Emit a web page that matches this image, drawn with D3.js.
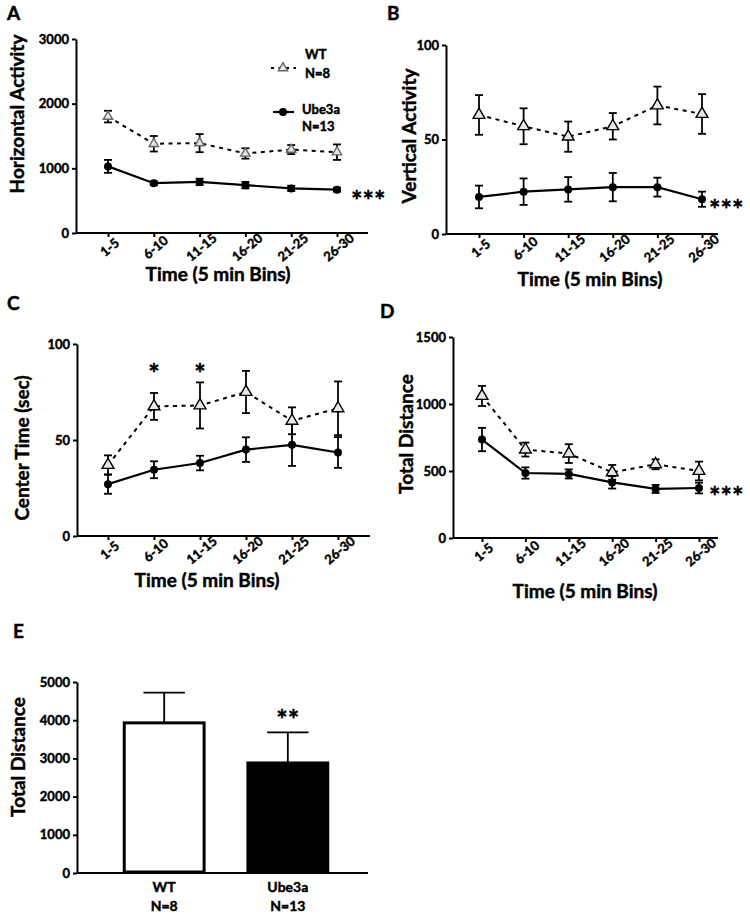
<!DOCTYPE html>
<html>
<head>
<meta charset="utf-8">
<script src="https://cdn.jsdelivr.net/npm/d3@7"></script>
<style>
  html, body { margin: 0; padding: 0; background: #fff; }
  svg { display: block; }
  text { font-family: Lato, "Open Sans", sans-serif; font-weight: bold; fill: #000;
         stroke: #000; stroke-width: 0.45px; paint-order: stroke; }
</style>
</head>
<body>
<svg id="chart" width="750" height="917"></svg>
<script>
// ---------------- DATA ----------------
const categories = ["1-5", "6-10", "11-15", "16-20", "21-25", "26-30"];

const horizWT = [1800, 1380, 1390, 1230, 1290, 1250];
const horizWTErr = [90, 120, 140, 80, 70, 120];
const horizUbe = [1030, 770, 790, 740, 690, 670];
const horizUbeErr = [100, 30, 50, 50, 40, 30];
const horizTicks = [0, 1000, 2000, 3000];

const vertWT = [63, 57, 51.5, 57, 68, 63.5];
const vertWTErr = [10.5, 9.5, 8, 7, 10, 10.5];
const vertUbe = [19.6, 22.4, 23.6, 24.8, 24.8, 18.4];
const vertUbeErr = [6, 7, 6.5, 7.5, 5, 4];
const vertTicks = [0, 50, 100];

const centerWT = [37, 67.5, 68, 75, 60, 66.5];
const centerWTErr = [5, 7, 12, 11, 7, 14];
const centerUbe = [27, 34.5, 38, 45, 47.5, 43.5];
const centerUbeErr = [5, 4.4, 3.8, 6.4, 11, 8];
const centerTicks = [0, 50, 100];

const distWT = [1060, 660, 630, 490, 550, 500];
const distWTErr = [75, 52, 70, 55, 37, 70];
const distUbe = [735, 485, 478, 415, 366, 373];
const distUbeErr = [87, 42, 34, 46, 30, 40];
const distTicks = [0, 500, 1000, 1500];

const totalGroups = ["WT", "Ube3a"];
const totalN = ["N=8", "N=13"];
const totalMean = [3930, 2880];
const totalErr = [790, 800];
const totalTicks = [0, 1000, 2000, 3000, 4000, 5000];

const legendLabels = [["WT", "N=8"], ["Ube3a", "N=13"]];

// ---------------- DRAW ----------------
const svg = d3.select("#chart");
const AX_W = 2;
const STAR_FONT = "'DejaVu Sans', sans-serif";
const STAR_SIZE = 27;

function styleAxis(g) {
  g.selectAll("path.domain").attr("stroke", "#000").attr("stroke-width", AX_W);
  g.selectAll(".tick line").attr("stroke", "#000").attr("stroke-width", AX_W);
  g.selectAll(".tick text").attr("font-size", 13).attr("fill", "#000")
    .attr("font-family", "Lato, 'Open Sans', sans-serif").attr("font-weight", "bold");
}

function yAxis(g, y, x0, ticks) {
  const a = g.append("g").attr("transform", `translate(${x0},0)`)
    .call(d3.axisLeft(y).tickValues(ticks).tickSize(4).tickSizeOuter(0).tickPadding(3).tickFormat(d3.format("d")));
  styleAxis(a);
  return a;
}

function panelLetter(txt, x, y) {
  svg.append("text").attr("x", x).attr("y", y).attr("font-size", 19).text(txt);
}

function yTitle(txt, bx, cy) {
  svg.append("text").attr("transform", `translate(${bx},${cy}) rotate(-90)`)
    .attr("text-anchor", "middle").attr("font-size", 19).text(txt);
}

function xTitle(txt, cx, by) {
  svg.append("text").attr("x", cx).attr("y", by)
    .attr("text-anchor", "middle").attr("font-size", 19).text(txt);
}

function stars(g, txt, x, cy, anchor) {
  g.append("text").attr("x", x).attr("y", cy + STAR_SIZE * 0.6)
    .attr("text-anchor", anchor).attr("font-family", STAR_FONT).attr("font-size", STAR_SIZE)
    .attr("letter-spacing", 0).text(txt);
}

function errBars(g, x, y, vals, errs, cap) {
  const eg = g.append("g").attr("stroke", "#000").attr("stroke-width", 1.8);
  vals.forEach((v, i) => {
    const cx = x(categories[i]);
    eg.append("line").attr("x1", cx).attr("x2", cx).attr("y1", y(v - errs[i])).attr("y2", y(v + errs[i]));
    eg.append("line").attr("x1", cx - cap / 2).attr("x2", cx + cap / 2).attr("y1", y(v - errs[i])).attr("y2", y(v - errs[i]));
    eg.append("line").attr("x1", cx - cap / 2).attr("x2", cx + cap / 2).attr("y1", y(v + errs[i])).attr("y2", y(v + errs[i]));
  });
}

function linePanel(c) {
  const g = svg.append("g");
  const y = d3.scaleLinear().domain([0, c.max]).range([c.yBottom, c.yTop]);
  const x = d3.scalePoint().domain(categories).range([c.catStart, c.catEnd]);

  yAxis(g, y, c.x0, c.ticks);
  g.append("line").attr("x1", c.x0).attr("x2", c.x1).attr("y1", c.yBottom).attr("y2", c.yBottom)
    .attr("stroke", "#000").attr("stroke-width", AX_W);
  const xa = g.append("g").attr("transform", `translate(0,${c.yBottom})`)
    .call(d3.axisBottom(x).tickSize(4).tickSizeOuter(0));
  xa.select("path.domain").remove();
  styleAxis(xa);
  xa.selectAll(".tick text")
    .attr("y", null).attr("dy", null)
    .attr("text-anchor", "middle").attr("dominant-baseline", "central")
    .attr("transform", "translate(1,14) rotate(-40)");

  const line = d3.line().x((d, i) => x(categories[i])).y(d => y(d));
  g.append("path").datum(c.wt).attr("d", line).attr("fill", "none")
    .attr("stroke", "#000").attr("stroke-width", 2).attr("stroke-dasharray", "4,4.5");
  g.append("path").datum(c.ube).attr("d", line).attr("fill", "none")
    .attr("stroke", "#000").attr("stroke-width", 2.2);

  errBars(g, x, y, c.wt, c.wtErr, 8);
  errBars(g, x, y, c.ube, c.ubeErr, 8);

  const tri = d3.symbol().type(d3.symbolTriangle).size(c.triSize);
  g.selectAll(null).data(c.wt).enter().append("path")
    .attr("d", tri).attr("transform", (d, i) => `translate(${x(categories[i])},${y(d)})`)
    .attr("fill", "#e6e6e6").attr("stroke", c.triStroke).attr("stroke-width", 1.4);
  g.selectAll(null).data(c.ube).enter().append("circle")
    .attr("cx", (d, i) => x(categories[i])).attr("cy", d => y(d)).attr("r", 4)
    .attr("fill", "#000");

  if (c.stars) {
    const last = categories.length - 1;
    stars(g, "***", x(categories[last]) + c.stars.dx, y(c.ube[last]) + c.stars.dy, "start");
  }
  if (c.starCats) {
    c.starCats.forEach(cat => stars(g, "*", x(cat), c.starY, "middle"));
  }
  return { g, x, y };
}

// ---- Panel A ----
panelLetter("A", 7, 20);
linePanel({
  x0: 76, x1: 368, yTop: 39, yBottom: 233, catStart: 108, catEnd: 337,
  max: 3000, ticks: horizTicks, wt: horizWT, wtErr: horizWTErr, ube: horizUbe, ubeErr: horizUbeErr,
  triSize: 38, triStroke: "#666", stars: { dx: 14, dy: 4 }
});
yTitle("Horizontal Activity", 24, 114);
xTitle("Time (5 min Bins)", 218, 281);

// legend
{
  const lg = svg.append("g");
  const tri = d3.symbol().type(d3.symbolTriangle).size(38);
  lg.append("line").attr("x1", 271).attr("x2", 296).attr("y1", 68).attr("y2", 68)
    .attr("stroke", "#000").attr("stroke-width", 2).attr("stroke-dasharray", "3,4.5");
  lg.append("path").attr("d", tri).attr("transform", "translate(283,68)")
    .attr("fill", "#e6e6e6").attr("stroke", "#666").attr("stroke-width", 1.4);
  lg.append("line").attr("x1", 273).attr("x2", 294).attr("y1", 112).attr("y2", 112)
    .attr("stroke", "#000").attr("stroke-width", 2.2);
  lg.append("circle").attr("cx", 283).attr("cy", 112).attr("r", 4).attr("fill", "#000");
  const pos = [[305, 59, 78], [302, 114, 131]];
  legendLabels.forEach((l, i) => {
    lg.append("text").attr("x", pos[i][0]).attr("y", pos[i][1]).attr("font-size", 13).text(l[0]);
    lg.append("text").attr("x", pos[i][0]).attr("y", pos[i][2]).attr("font-size", 13).text(l[1]);
  });
}

// ---- Panel B ----
panelLetter("B", 387, 20);
linePanel({
  x0: 446, x1: 718, yTop: 45, yBottom: 234, catStart: 479, catEnd: 702,
  max: 100, ticks: vertTicks, wt: vertWT, wtErr: vertWTErr, ube: vertUbe, ubeErr: vertUbeErr,
  triSize: 60, triStroke: "#000", stars: { dx: 7, dy: 4 }
});
yTitle("Vertical Activity", 416, 136);
xTitle("Time (5 min Bins)", 590, 286);

// ---- Panel C ----
panelLetter("C", 7, 310);
linePanel({
  x0: 77, x1: 370, yTop: 344, yBottom: 536, catStart: 108, catEnd: 338,
  max: 100, ticks: centerTicks, wt: centerWT, wtErr: centerWTErr, ube: centerUbe, ubeErr: centerUbeErr,
  triSize: 60, triStroke: "#000", starCats: ["6-10", "11-15"], starY: 367
});
yTitle("Center Time (sec)", 29, 448);
xTitle("Time (5 min Bins)", 207, 587);

// ---- Panel D ----
panelLetter("D", 380, 318);
linePanel({
  x0: 453, x1: 718, yTop: 337, yBottom: 538, catStart: 482, catEnd: 699,
  max: 1500, ticks: distTicks, wt: distWT, wtErr: distWTErr, ube: distUbe, ubeErr: distUbeErr,
  triSize: 60, triStroke: "#000", stars: { dx: 10, dy: 2 }
});
yTitle("Total Distance", 413, 434);
xTitle("Time (5 min Bins)", 585, 598);

// ---- Panel E ----
panelLetter("E", 13, 638);
{
  const g = svg.append("g");
  const x0 = 77, x1 = 368, yTop = 682, yBottom = 873;
  const y = d3.scaleLinear().domain([0, 5000]).range([yBottom, yTop]);
  const x = d3.scaleBand().domain(totalGroups).range([x0, 375]).paddingInner(0.33).paddingOuter(0.37);
  yAxis(g, y, x0, totalTicks);
  g.append("line").attr("x1", x0).attr("x2", x1).attr("y1", yBottom).attr("y2", yBottom)
    .attr("stroke", "#000").attr("stroke-width", AX_W);

  totalGroups.forEach((grp, i) => {
    const cx = x(grp) + x.bandwidth() / 2;
    const capW = x.bandwidth() * 0.5;
    g.append("line").attr("x1", cx).attr("x2", cx).attr("y1", y(totalMean[i])).attr("y2", y(totalMean[i] + totalErr[i]))
      .attr("stroke", "#000").attr("stroke-width", 1.8);
    g.append("line").attr("x1", cx - capW / 2).attr("x2", cx + capW / 2)
      .attr("y1", y(totalMean[i] + totalErr[i])).attr("y2", y(totalMean[i] + totalErr[i]))
      .attr("stroke", "#000").attr("stroke-width", 1.8);
  });
  g.selectAll(null).data(totalMean).enter().append("rect")
    .attr("x", (d, i) => x(totalGroups[i]) + 1.5)
    .attr("y", d => y(d))
    .attr("width", x.bandwidth() - 3)
    .attr("height", d => yBottom - y(d) - 1)
    .attr("fill", (d, i) => i === 0 ? "#fff" : "#000")
    .attr("stroke", "#000").attr("stroke-width", 3);

  totalGroups.forEach((grp, i) => {
    const cx = x(grp) + x.bandwidth() / 2;
    g.append("text").attr("x", cx).attr("y", 892).attr("text-anchor", "middle").attr("font-size", 14).text(grp);
    g.append("text").attr("x", cx).attr("y", 911).attr("text-anchor", "middle").attr("font-size", 14).text(totalN[i]);
  });
  const cx2 = x(totalGroups[1]) + x.bandwidth() / 2;
  stars(g, "**", cx2, y(totalMean[1] + totalErr[1]) - 20, "middle");
}
yTitle("Total Distance", 25, 757);
</script>
</body>
</html>
